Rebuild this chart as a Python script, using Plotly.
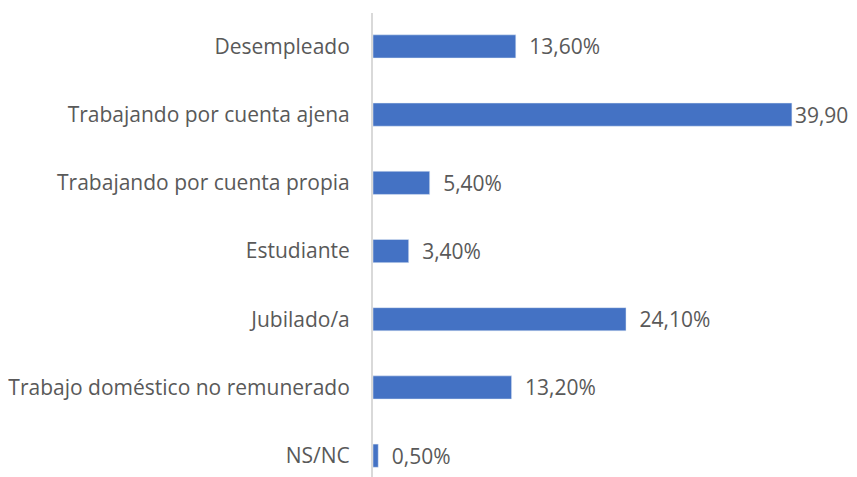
import plotly.graph_objects as go

categories = ["Desempleado", "Trabajando por cuenta ajena", "Trabajando por cuenta propia",
              "Estudiante", "Jubilado/a", "Trabajo doméstico no remunerado", "NS/NC"]
values = [13.6, 39.9, 5.4, 3.4, 24.1, 13.2, 0.5]
labels = ["13,60%", "39,90", "5,40%", "3,40%", "24,10%", "13,20%", "0,50%"]

text = [("\u2009\u2009\u2009" + l) if i != 1 else l for i, l in enumerate(labels)]

fig = go.Figure(go.Bar(
    y=categories, x=values, orientation="h",
    marker=dict(color="#4472C4"),
    width=0.34,
    text=text, textposition="outside", cliponaxis=False, constraintext="none",
    textfont=dict(family="Open Sans", size=21, color="#595959"),
))

fig.update_layout(
    width=857, height=477,
    margin=dict(l=365, r=8, t=5, b=0),
    paper_bgcolor="white", plot_bgcolor="white",
    showlegend=False,
    font=dict(family="Open Sans", size=21, color="#595959"),
    xaxis=dict(range=[0, 46.1], showgrid=False, showticklabels=False, zeroline=False,
               showline=False, automargin=False),
    yaxis=dict(categoryorder="array", categoryarray=categories,
               range=[6.43, -0.49], showgrid=False, zeroline=False,
               showline=True, linecolor="#d9d9d9", linewidth=2, automargin=False,
               ticks="", ticklabelstandoff=17),
)

fig.write_html("out.html")
